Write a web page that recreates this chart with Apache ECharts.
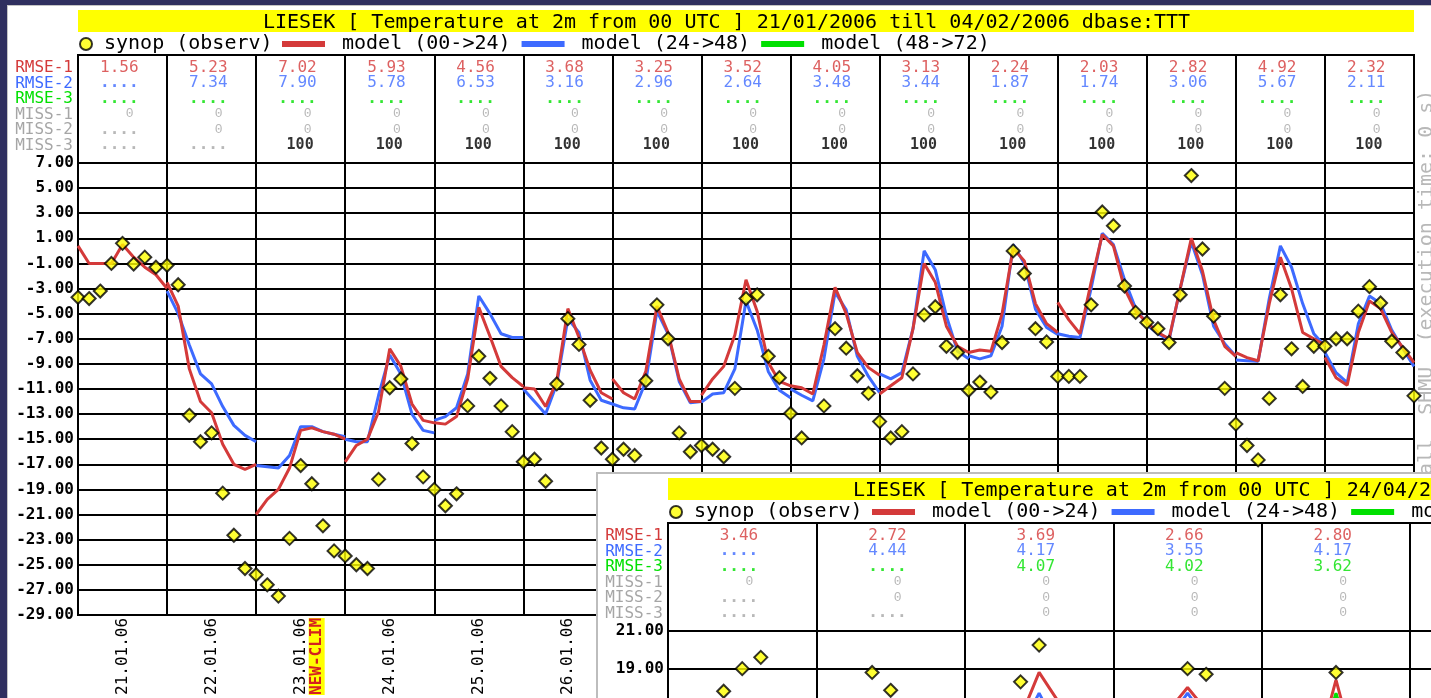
<!DOCTYPE html>
<html><head><meta charset="utf-8">
<script src="https://cdn.jsdelivr.net/npm/echarts@6/dist/echarts.min.js"></script>
<style>
html,body{margin:0;padding:0;width:1431px;height:698px;overflow:hidden;background:#2f2f5f;}
#win1{position:absolute;left:7px;top:5px;width:1424px;height:693px;background:#fff;border-left:1px solid #c4c4c4;border-top:1px solid #c4c4c4;overflow:hidden;}
#c1{position:absolute;left:0;top:0;width:1423px;height:692px;}
#win2{position:absolute;left:596px;top:472px;width:835px;height:226px;background:#fff;border-left:2px solid #bdbdbd;border-top:2px solid #bdbdbd;overflow:hidden;}
#c2{position:absolute;left:0;top:0;width:1423px;height:692px;}
</style></head>
<body>
<div id="win1"><div id="c1"></div></div>
<div id="win2"><div id="c2"></div></div>
<script>
// ---------------- shared labels ----------------
const seriesNames = ['synop (observ)', 'model (00->24)', 'model (24->48)', 'model (48->72)'];
const rowLabels = ['RMSE-1', 'RMSE-2', 'RMSE-3', 'MISS-1', 'MISS-2', 'MISS-3'];
const sideNote = 'all  SHMU  (execution time: 0 s)';

// ---------------- main window: 21/01/2006 - 04/02/2006 ----------------
const mainTitle = 'LIESEK [ Temperature at 2m from 00 UTC ] 21/01/2006 till 04/02/2006 dbase:TTT';
const mainDates = ['21.01.06','22.01.06','23.01.06','24.01.06','25.01.06','26.01.06','27.01.06','28.01.06',
  '29.01.06','30.01.06','31.01.06','01.02.06','02.02.06','03.02.06','04.02.06'];
const mainDateNotes = ['','','NEW-CLIM','','','','','','','','','','','',''];
const mainYTicks = {min: -29, max: 7, step: 2};
// synop observations every 3 hours from 21.01 00 UTC
const mainObs = [
  -3.7,-3.8,-3.2,-1.0,0.6,-1.05,-0.5,-1.3,
  -1.15,-2.7,-13.1,-15.2,-14.5,-19.3,-22.65,-25.3,
  -25.8,-26.6,-27.5,-22.9,-17.1,-18.55,-21.9,-23.9,
  -24.3,-25.0,-25.3,-18.2,-10.9,-10.2,-15.35,-18.0,
  -19.0,-20.3,-19.35,-12.35,-8.4,-10.15,-12.35,-14.4,
  -16.8,-16.6,-18.35,-10.6,-5.4,-7.45,-11.9,-15.7,
  -16.6,-15.8,-16.3,-10.35,-4.3,-7.0,-14.5,-16.0,
  -15.5,-15.8,-16.4,-10.95,-3.8,-3.5,-8.4,-10.1,
  -12.95,-14.9,null,-12.35,-6.2,-7.75,-9.95,-11.35,
  -13.6,-14.9,-14.4,-9.8,-5.1,-4.45,-7.6,-8.1,
  -11.1,-10.45,-11.25,-7.3,0.0,-1.8,-6.2,-7.25,
  -10.0,-10.0,-10.0,-4.3,3.1,2.0,-2.8,-4.9,
  -5.7,-6.2,-7.3,-3.5,6.0,0.15,-5.2,-10.95,
  -13.8,-15.5,-16.65,-11.75,-3.5,-7.8,-10.8,-7.6,
  -7.6,-7.0,-7.0,-4.8,-2.85,-4.15,-7.2,-8.1,
  -11.55
];
// model forecasts, one list per day, 3-hourly (00..24 UTC)
const mainModel0024 = [
  [0.4,-1.0,-1.0,-1.0,0.5,-0.5,-1.3,-1.9,-3.0],
  [-2.5,-4.4,-9.4,-12.0,-12.9,-15.4,-17.0,-17.4,-17.0],
  [-21.0,-19.8,-19.0,-17.3,-14.3,-14.1,-14.4,-14.6,-15.0],
  [-16.8,-15.5,-15.0,-12.8,-7.8,-9.2,-12.2,-13.5,-13.7],
  [-13.7,-13.8,-13.2,-10.2,-4.5,-6.8,-9.2,-10.1,-10.8],
  [-10.9,-11.0,-12.4,-10.4,-4.6,-6.9,-9.5,-11.3,-11.8],
  [-10.2,-11.3,-11.8,-9.6,-4.4,-6.5,-10.2,-12.0,-12.0],
  [-11.5,-10.2,-9.2,-6.7,-2.3,-4.8,-8.9,-10.4,-10.75],
  [-10.75,-10.9,-11.4,-7.5,-2.9,-5.0,-8.1,-9.3,-9.9],
  [-11.4,-10.75,-10.1,-6.2,-1.0,-2.5,-6.0,-7.6,-8.1],
  [-8.1,-7.9,-8.0,-5.0,0.2,-0.8,-4.2,-5.8,-6.5],
  [-4.1,-5.5,-6.6,-2.5,1.3,0.4,-3.0,-4.8,-5.7],
  [-5.7,-6.5,-7.0,-3.0,1.0,-1.6,-5.5,-7.6,-8.4],
  [-8.1,-8.5,-8.75,-4.2,-0.5,-3.0,-6.5,-7.0,-7.5],
  [-8.5,-10.1,-10.7,-6.5,-4.0,-4.6,-6.5,-7.7,-8.9]
];
const mainModel2448 = [
  null,
  [-3.2,-5.0,-7.5,-9.8,-10.6,-12.4,-13.9,-14.7,-15.2],
  [-17.1,-17.2,-17.3,-16.3,-14.0,-14.0,-14.4,-14.6,-14.8],
  [-15.0,-15.2,-15.2,-11.5,-8.3,-9.8,-13.0,-14.3,-14.5],
  [-13.5,-13.2,-12.5,-9.8,-3.6,-5.0,-6.6,-6.9,-6.9],
  [-11.0,-12.0,-13.0,-10.6,-5.4,-6.5,-10.3,-11.9,-12.2],
  [-12.2,-12.5,-12.6,-10.4,-4.8,-6.6,-10.4,-12.1,-12.0],
  [-12.05,-11.4,-11.3,-9.4,-4.0,-6.3,-9.6,-11.1,-11.7],
  [-11.0,-11.5,-11.95,-8.6,-3.3,-4.7,-8.4,-10.0,-11.3],
  [-9.8,-10.2,-9.7,-6.2,0.0,-1.5,-5.2,-8.0,-8.6],
  [-8.35,-8.6,-8.35,-6.0,0.5,-1.0,-4.65,-6.1,-6.65],
  [-6.6,-6.8,-6.9,-3.0,1.4,0.5,-2.3,-4.6,-5.8],
  [-5.9,-6.6,-7.1,-3.0,0.7,-1.9,-6.0,-7.4,-8.4],
  [-8.7,-8.75,-8.8,-3.8,0.4,-1.3,-4.2,-6.6,-7.6],
  [-8.1,-9.7,-10.5,-5.8,-3.6,-4.2,-6.3,-7.8,-9.2]
];
const mainModel4872 = [null,null,null,null,null,null,null,null,null,null,null,null,null,null,null];
const mainRmse1 = [1.56,5.23,7.02,5.93,4.56,3.68,3.25,3.52,4.05,3.13,2.24,2.03,2.82,4.92,2.32];
const mainRmse2 = [null,7.34,7.90,5.78,6.53,3.16,2.96,2.64,3.48,3.44,1.87,1.74,3.06,5.67,2.11];
const mainRmse3 = [null,null,null,null,null,null,null,null,null,null,null,null,null,null,null];
const mainMiss1 = [0,0,0,0,0,0,0,0,0,0,0,0,0,0,0];
const mainMiss2 = [null,0,0,0,0,0,0,0,0,0,0,0,0,0,0];
const mainMiss3 = [null,null,100,100,100,100,100,100,100,100,100,100,100,100,100];

// ---------------- second (overlapping) window: 24/04/2006 ----------------
const insetTitle = 'LIESEK [ Temperature at 2m from 00 UTC ] 24/04/2006 till 02/05/2006 dbase:TTT';
const insetDates = ['24.04.06','25.04.06','26.04.06','27.04.06','28.04.06','29.04.06','30.04.06','01.05.06','02.05.06'];
const insetDateNotes = ['','','','','','','','',''];
const insetYTicks = {min: -3, max: 21, step: 2};
// only the visible part of this window could be read
const insetObs = [
  null,null,null,17.8,19.0,19.6,null,null,
  null,null,null,18.8,17.85,null,null,null,
  null,null,null,18.3,20.25,null,null,null,
  null,null,null,null,19.0,18.7,null,null,
  null,null,null,null,18.8
];
const insetModel0024 = [
  null, null,
  [null,null,null,16.4,18.8,17.3,null,null,null],
  [null,null,null,16.8,18.0,16.8,null,null,null],
  [null,null,null,14.7,18.4,14.7,null,null,null]
];
const insetModel2448 = [
  null, null,
  [null,null,null,15.8,17.7,15.8,null,null,null],
  [null,null,null,16.3,17.7,16.3,null,null,null],
  null
];
const insetModel4872 = [
  null, null, null, null,
  [null,null,null,14.5,17.7,14.5,null,null,null]
];
const insetRmse1 = [3.46,2.72,3.69,2.66,2.80,null,null,null,null];
const insetRmse2 = [null,4.44,4.17,3.55,4.17,null,null,null,null];
const insetRmse3 = [null,null,4.07,4.02,3.62,null,null,null,null];
const insetMiss1 = [0,0,0,0,0,null,null,null,null];
const insetMiss2 = [null,0,0,0,0,null,null,null,null];
const insetMiss3 = [null,null,0,0,0,null,null,null,null];

// ---------------- styling ----------------
const MONO = '"DejaVu Sans Mono", "Liberation Mono", monospace';
const RED = '#d43a3a', BLUE = '#3d6aff', GREEN = '#00e000', GREY = '#a6a6a6';
const rowColors = [RED, BLUE, GREEN, GREY, GREY, GREY, GREY];

function modelData(days) {
  const out = [];
  days.forEach((vals, d) => {
    if (!vals) return;
    vals.forEach((v, k) => out.push([24 * d + 3 * k, v == null ? '-' : v]));
    out.push([24 * d + 24, '-']);
  });
  return out;
}
function obsData(obs) {
  const out = [];
  obs.forEach((v, i) => { if (v != null) out.push([3 * i, v]); });
  return out;
}
function cellSeries(rows, nDays) {
  const series = [];
  rows.forEach((vals, r) => {
    const data = [];
    for (let d = 0; d < nDays; d++) {
      const v = vals[d];
      let txt, lab;
      if (r < 3) {
        txt = v == null ? '....' : v.toFixed(2);
        lab = {color: rowColors[r], fontSize: 16, fontWeight: v == null ? 'bold' : 'normal', offset: [16, 5]};
      } else if (v == null) {
        txt = '....';
        lab = {color: GREY, fontSize: 16, fontWeight: 'bold', offset: [16, 5]};
      } else if (v === 100) {
        txt = String(v);
        lab = {color: '#000', fontSize: 15, fontWeight: 'bold', offset: [13, 5]};
      } else {
        txt = String(v);
        lab = {color: GREY, fontSize: 13, fontWeight: 'normal', offset: [11, 5], fontFamily: '"Liberation Mono", monospace'};
      }
      data.push({value: [24 * d + 12, r], txt: txt, label: lab});
    }
    series.push({
      type: 'scatter', xAxisIndex: 1, yAxisIndex: 1, symbolSize: 1,
      itemStyle: {color: 'rgba(0,0,0,0)'}, silent: true, data: data,
      label: {show: true, position: 'inside', align: 'right', verticalAlign: 'middle',
        fontFamily: MONO, formatter: p => p.data.txt}
    });
  });
  return series;
}

function buildOption(cfg) {
  const n = cfg.dates.length;
  const L = 70, W = 1336;
  return {
    animation: false,
    backgroundColor: 'transparent',
    title: {text: cfg.title, left: 255, top: 7, padding: 0,
      textStyle: {fontSize: 20, fontWeight: 'normal', fontFamily: MONO, color: '#000', lineHeight: 20}},
    graphic: [
      {type: 'rect', z: -10, shape: {x: L, y: 4, width: W, height: 22}, style: {fill: '#ffff00'}},
      {type: 'text', x: 1419, y: 469, rotation: Math.PI / 2,
        style: {text: sideNote, fill: '#b8b8b8', font: '20px ' + MONO, textAlign: 'left', textVerticalAlign: 'middle'}}
    ],
    legend: [
      {data: [seriesNames[0]], left: 71, top: 28, padding: 0, icon: 'circle', itemWidth: 12, itemHeight: 12,
        textStyle: {fontSize: 20, fontFamily: MONO, color: '#000', padding: [0, 0, 0, 7]}},
      {data: seriesNames.slice(1), left: 274, top: 28, padding: 0, icon: 'rect', itemWidth: 43, itemHeight: 6, itemGap: 11,
        textStyle: {fontSize: 20, fontFamily: MONO, color: '#000', padding: [0, 0, 0, 12]}}
    ],
    grid: [
      {left: L, top: 157, width: W, height: 454, show: true, borderColor: '#000', borderWidth: 2},
      {left: L, top: 49, width: W, height: 108, show: true, borderColor: '#000', borderWidth: 2}
    ],
    xAxis: [
      {gridIndex: 0, type: 'value', min: 0, max: 24 * n, interval: 24,
        axisLabel: {show: false}, axisTick: {show: false}, axisLine: {show: false},
        splitLine: {show: true, lineStyle: {color: '#000', width: 2}}},
      {gridIndex: 1, type: 'value', min: 0, max: 24 * n, interval: 24,
        axisLabel: {show: false}, axisTick: {show: false}, axisLine: {show: false},
        splitLine: {show: true, lineStyle: {color: '#000', width: 2}}},
      {gridIndex: 0, type: 'category', data: cfg.dates, position: 'bottom', boundaryGap: true,
        axisLine: {show: false}, axisTick: {show: false}, splitLine: {show: false},
        axisLabel: {rotate: 90, margin: 3, fontSize: 16, fontFamily: MONO, color: '#000', lineHeight: 16,
          interval: 0,
          formatter: (v, i) => cfg.notes[i] ? '{e|}\n' + v + '\n{n|' + cfg.notes[i] + '}' : v,
          rich: {e: {lineHeight: 16, fontSize: 16},
            n: {lineHeight: 16, fontSize: 16, fontFamily: MONO, fontWeight: 'bold', color: '#d42020', backgroundColor: '#ffff00'}}}}
    ],
    yAxis: [
      {gridIndex: 0, type: 'value', min: cfg.y.min, max: cfg.y.max, interval: cfg.y.step,
        axisLine: {show: false}, axisTick: {show: false},
        axisLabel: {formatter: v => v.toFixed(2), fontSize: 16, fontWeight: 'bold', fontFamily: MONO, color: '#000', margin: 4},
        splitLine: {show: true, lineStyle: {color: '#000', width: 2}}},
      {gridIndex: 1, type: 'category', inverse: true, data: rowLabels.concat(['']),
        axisLine: {show: false}, axisTick: {show: false}, splitLine: {show: false},
        axisLabel: {fontSize: 16, fontFamily: MONO, margin: 5, verticalAlign: 'top', lineHeight: 11, interval: 0,
          color: (v, i) => rowColors[i]}}
    ],
    series: [
      {name: seriesNames[2], type: 'line', xAxisIndex: 0, yAxisIndex: 0, data: modelData(cfg.m2),
        showSymbol: false, color: BLUE, lineStyle: {width: 3, color: BLUE}, z: 2},
      {name: seriesNames[3], type: 'line', xAxisIndex: 0, yAxisIndex: 0, data: modelData(cfg.m3),
        showSymbol: false, color: GREEN, lineStyle: {width: 3, color: GREEN}, z: 2},
      {name: seriesNames[1], type: 'line', xAxisIndex: 0, yAxisIndex: 0, data: modelData(cfg.m1),
        showSymbol: false, color: RED, lineStyle: {width: 3, color: RED}, z: 3},
      {name: seriesNames[0], type: 'scatter', xAxisIndex: 0, yAxisIndex: 0, data: obsData(cfg.obs),
        symbol: 'diamond', symbolSize: 13, z: 5,
        itemStyle: {color: '#ffff00', borderColor: '#000', borderWidth: 2}}
    ].concat(cellSeries(cfg.rows, n))
  };
}

const mainChart = echarts.init(document.getElementById('c1'));
mainChart.setOption(buildOption({
  title: mainTitle, dates: mainDates, notes: mainDateNotes, y: mainYTicks, obs: mainObs,
  m1: mainModel0024, m2: mainModel2448, m3: mainModel4872,
  rows: [mainRmse1, mainRmse2, mainRmse3, mainMiss1, mainMiss2, mainMiss3]
}));
const insetChart = echarts.init(document.getElementById('c2'));
insetChart.setOption(buildOption({
  title: insetTitle, dates: insetDates, notes: insetDateNotes, y: insetYTicks, obs: insetObs,
  m1: insetModel0024, m2: insetModel2448, m3: insetModel4872,
  rows: [insetRmse1, insetRmse2, insetRmse3, insetMiss1, insetMiss2, insetMiss3]
}));
</script>
</body></html>
